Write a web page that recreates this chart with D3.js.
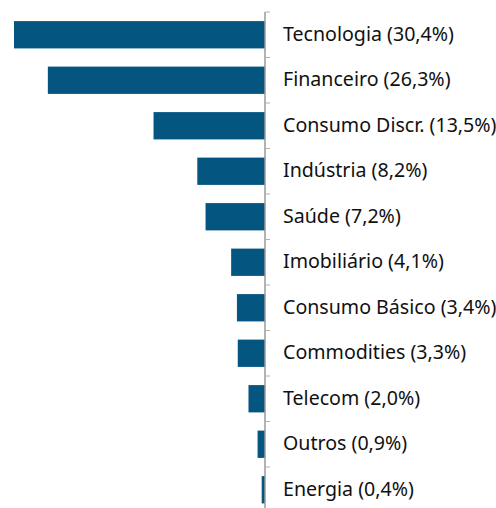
<!DOCTYPE html>
<html>
<head>
<meta charset="utf-8">
<script src="https://cdn.jsdelivr.net/npm/d3@7"></script>
<style>
  body { margin: 0; background: #fff; }
  svg { display: block; }
  .label { font-family: "Noto Sans", sans-serif; font-size: 19.6px; fill: #111; }
</style>
</head>
<body>
<svg id="chart"></svg>
<script>
var sectors = ["Tecnologia", "Financeiro", "Consumo Discr.", "Indústria", "Saúde",
  "Imobiliário", "Consumo Básico", "Commodities", "Telecom", "Outros", "Energia"];
var weights = [30.4, 26.3, 13.5, 8.2, 7.2, 4.1, 3.4, 3.3, 2.0, 0.9, 0.4];
var weightLabels = ["30,4%", "26,3%", "13,5%", "8,2%", "7,2%", "4,1%", "3,4%", "3,3%", "2,0%", "0,9%", "0,4%"];

var width = 496, height = 508;
var axisX = 265, topY = 12, step = 45.5;

var svg = d3.select("#chart")
  .attr("width", width)
  .attr("height", height);

var x = d3.scaleLinear()
  .domain([0, 30.4])
  .range([axisX, 14]);

var y = d3.scaleBand()
  .domain(sectors)
  .range([topY, topY + step * sectors.length])
  .paddingInner(0.4)
  .paddingOuter(0.2);

// bars
svg.selectAll(".bar")
  .data(sectors)
  .enter()
  .append("rect")
  .attr("class", "bar")
  .attr("x", function (d, i) { return x(weights[i]); })
  .attr("y", function (d) { return y(d); })
  .attr("width", function (d, i) { return x(0) - x(weights[i]); })
  .attr("height", y.bandwidth())
  .attr("fill", "#045580");

// axis line and ticks at band boundaries
var bounds = sectors.map(function (d) { return y(d) - y.step() * y.paddingInner() / 2; });
bounds[0] = topY;
svg.append("line")
  .attr("x1", axisX).attr("x2", axisX)
  .attr("y1", topY).attr("y2", topY + step * sectors.length)
  .attr("stroke", "#9a9a9a")
  .attr("stroke-width", 1.5);

svg.selectAll(".tick")
  .data(bounds)
  .enter()
  .append("line")
  .attr("class", "tick")
  .attr("x1", axisX).attr("x2", axisX + 5)
  .attr("y1", function (d) { return d; })
  .attr("y2", function (d) { return d; })
  .attr("stroke", "#b0b0b0")
  .attr("stroke-width", 1);

// labels
svg.selectAll(".label")
  .data(sectors)
  .enter()
  .append("text")
  .attr("class", "label")
  .attr("x", axisX + 18)
  .attr("y", function (d) { return y(d) + y.bandwidth() / 2 - 1; })
  .attr("dy", "0.35em")
  .text(function (d, i) { return d + " (" + weightLabels[i] + ")"; });
</script>
</body>
</html>
